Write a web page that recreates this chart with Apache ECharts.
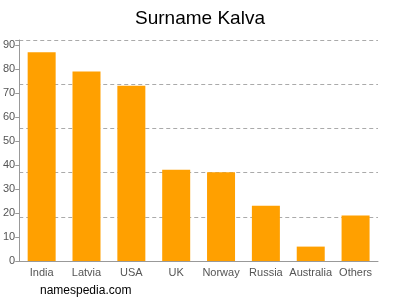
<!DOCTYPE html>
<html><head><meta charset="utf-8">
<script src="https://cdn.jsdelivr.net/npm/echarts@6/dist/echarts.min.js"></script>
<style>html,body{margin:0;padding:0;background:#fff}#c{width:400px;height:300px}</style>
</head><body><div id="c"></div>
<script>
const categories = ["India","Latvia","USA","UK","Norway","Russia","Australia","Others"];
const values = [87,79,73,38,37,23,6,19];
const yTicks = [0,10,20,30,40,50,60,70,80,90];
const chart = echarts.init(document.getElementById('c'));
const font = '"Liberation Sans", Arial, sans-serif';
chart.setOption({
  animation:false,
  title:{text:'Surname Kalva',left:'center',top:4,textStyle:{fontFamily:font,fontSize:19,fontWeight:'normal',color:'#000'}},
  graphic:[{type:'text',left:40,top:285,style:{text:'namespedia.com',font:'12px '+font,fill:'#000'}}],
  grid:{left:18,right:22,top:40,bottom:39},
  xAxis:{type:'category',data:categories,
    axisLine:{lineStyle:{color:'#999'}},
    axisTick:{alignWithLabel:true,length:4,interval:0,lineStyle:{color:'#999'}},
    axisLabel:{color:'#555',fontFamily:font,fontSize:11,margin:6,interval:0}},
  yAxis:[{type:'value',min:0,max:92.1,interval:10,
    axisLine:{show:true,lineStyle:{color:'#999'}},
    axisTick:{show:true,length:4,lineStyle:{color:'#999'}},
    axisLabel:{color:'#555',fontFamily:font,fontSize:11,margin:4,formatter:v=>yTicks.includes(v)?String(v):''},
    splitLine:{show:false}},
   {type:'value',min:0,max:5,interval:1,position:'left',
    axisLine:{show:false},axisTick:{show:false},axisLabel:{show:false},
    splitLine:{show:true,lineStyle:{color:'#aaa',type:[4,3],width:1}}}],
  series:[{type:'bar',data:values,barWidth:28,itemStyle:{color:'#ffa000'},yAxisIndex:0}]
});
</script></body></html>
